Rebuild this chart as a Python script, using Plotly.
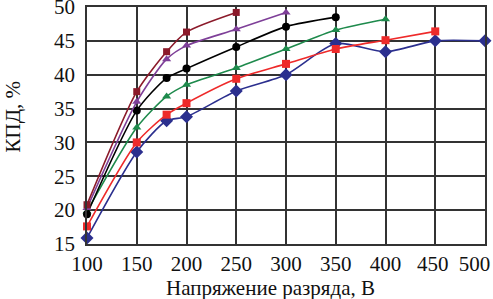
import plotly.graph_objects as go

x_brown = [100, 150, 180, 200, 250]
y_brown = [20.8, 37.5, 43.4, 46.3, 49.2]

x_purple = [100, 150, 180, 200, 250, 300]
y_purple = [20.3, 36.0, 42.3, 44.3, 46.7, 49.2]

x_black = [100, 150, 180, 200, 250, 300, 350]
y_black = [19.4, 34.7, 39.5, 40.9, 44.1, 47.1, 48.5]

x_green = [100, 150, 180, 200, 250, 300, 350, 400]
y_green = [19.8, 32.2, 36.8, 38.5, 41.0, 43.8, 46.6, 48.2]

x_red = [100, 150, 180, 200, 250, 300, 350, 400, 450]
y_red = [17.6, 30.0, 34.1, 35.8, 39.4, 41.6, 43.8, 45.1, 46.4]

x_blue = [100, 150, 180, 200, 250, 300, 350, 400, 450, 500]
y_blue = [15.9, 28.6, 33.2, 33.8, 37.6, 40.0, 44.6, 43.4, 45.0, 45.0]

x_ticks = [100, 150, 200, 250, 300, 350, 400, 450, 500]
x_ticktext = ["100", "150", "200", "250", "300", "350", "400", "450\u00a0", "500\u00a0\u00a0\u00a0\u00a0"]
y_ticks = [15, 20, 25, 30, 35, 40, 45, 50]

series = [
    (x_blue, y_blue, "#2B2F8E", "diamond", 10),
    (x_red, y_red, "#EE2A2A", "square", 8),
    (x_green, y_green, "#1E8A4C", "triangle-up", 8),
    (x_black, y_black, "#000000", "circle", 8),
    (x_purple, y_purple, "#7E3F98", "triangle-up", 8),
    (x_brown, y_brown, "#8B1A2A", "square", 7),
]

fig = go.Figure()
for xs, ys, col, sym, sz in series:
    fig.add_trace(go.Scatter(
        x=xs, y=ys, mode="lines+markers",
        line=dict(color=col, width=1.6, shape="spline", smoothing=0.7),
        marker=dict(color=col, symbol=sym, size=sz),
        showlegend=False, cliponaxis=False,
    ))

font = dict(family="Liberation Serif", size=21, color="#111111")

fig.update_layout(
    width=493, height=299,
    margin=dict(l=87, r=8, t=7, b=55, autoexpand=False),
    paper_bgcolor="white", plot_bgcolor="white",
    font=font,
    xaxis=dict(
        range=[100, 500], tickvals=x_ticks, ticktext=x_ticktext,
        showgrid=True, gridcolor="#333333", gridwidth=1.5,
        showline=True, linecolor="#333333", linewidth=1.5, mirror=True,
        zeroline=False, ticks="", ticklabelstandoff=0, tickfont=font,
        ticklabeloverflow="allow", automargin=False,
    ),
    yaxis=dict(
        range=[15, 50], tickvals=y_ticks, ticktext=[str(v) for v in y_ticks],
        showgrid=True, gridcolor="#333333", gridwidth=1.5,
        showline=True, linecolor="#333333", linewidth=1.5, mirror=True,
        zeroline=False, ticks="", ticklabelstandoff=6, tickfont=font,
        ticklabeloverflow="allow", automargin=False,
    ),
    annotations=[
        dict(text="Напряжение разряда, В", xref="paper", yref="paper",
             x=0.46, y=-0.125, xanchor="center", yanchor="top",
             showarrow=False, font=font),
        dict(text="КПД, %", xref="paper", yref="paper",
             x=-0.185, y=0.54, xanchor="center", yanchor="middle",
             textangle=-90, showarrow=False, font=font),
    ],
)

fig.write_html(
    "out.html",
    config={"displayModeBar": False},
    post_script="document.body.style.margin='0';document.body.style.overflow='hidden';",
)
